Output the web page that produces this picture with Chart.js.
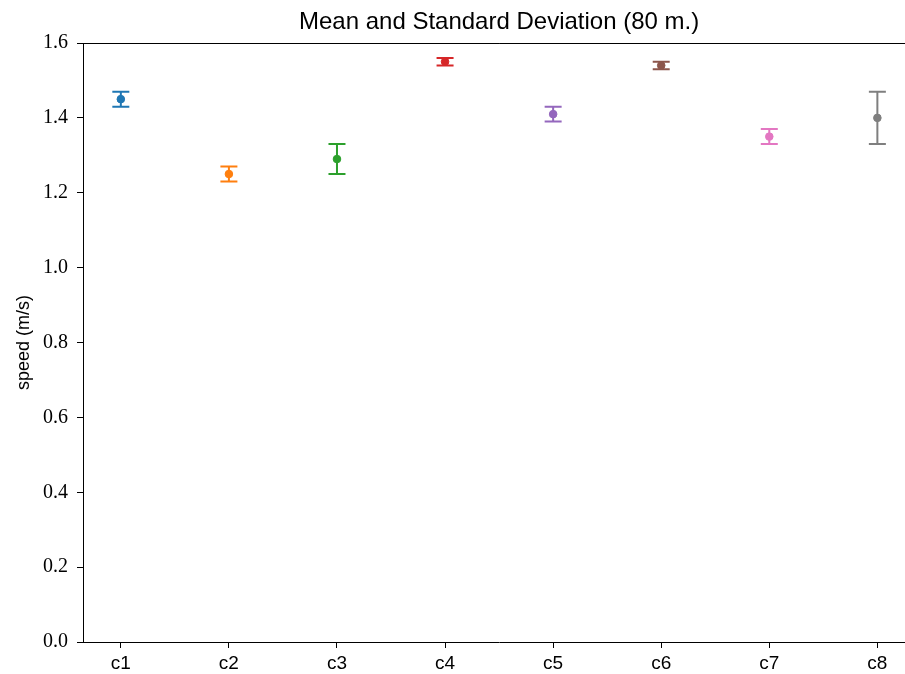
<!DOCTYPE html>
<html>
<head>
<meta charset="utf-8">
<script src="https://cdn.jsdelivr.net/npm/chart.js@4/dist/chart.umd.min.js"></script>
<style>
  html, body { margin: 0; padding: 0; background: #fff; overflow: hidden; }
  canvas { display: block; }
</style>
</head>
<body>
<canvas id="chart" width="920" height="674"></canvas>
<script>
// categorias, médias e desvios
const categories = ['c1', 'c2', 'c3', 'c4', 'c5', 'c6', 'c7', 'c8'];
const means = [1.45, 1.25, 1.29, 1.55, 1.41, 1.54, 1.35, 1.40];
const stds = [0.02, 0.02, 0.04, 0.01, 0.02, 0.01, 0.02, 0.07];
const colors = ['#1f77b4', '#ff7f0e', '#2ca02c', '#d62728', '#9467bd', '#8c564b', '#e377c2', '#7f7f7f'];
const yTicks = [0, 0.2, 0.4, 0.6, 0.8, 1.0, 1.2, 1.4, 1.6];
const chartTitle = 'Mean and Standard Deviation (80 m.)';

const sans = "'Liberation Sans', Arial, sans-serif";
const serif = "'Liberation Serif', 'Times New Roman', serif";

// uma série por categoria, para ter a cor própria
const datasets = categories.map((c, i) => ({
  label: c,
  data: [{ x: i, y: means[i], std: stds[i] }],
  backgroundColor: colors[i],
  borderColor: colors[i],
  pointRadius: 3.8,
  pointHoverRadius: 3.8
}));

// barras de erro, linha de cima do quadro e título centrado no eixo
const errorBars = {
  id: 'errorBars',
  beforeDatasetsDraw(chart) {
    const { ctx, scales: { x, y } } = chart;
    ctx.save();
    chart.data.datasets.forEach(ds => {
      ds.data.forEach(p => {
        const px = x.getPixelForValue(p.x);
        const top = y.getPixelForValue(p.y + p.std);
        const bot = y.getPixelForValue(p.y - p.std);
        ctx.strokeStyle = ds.borderColor;
        ctx.lineWidth = 2;
        ctx.beginPath();
        ctx.moveTo(px, top); ctx.lineTo(px, bot);
        ctx.moveTo(px - 8.5, top); ctx.lineTo(px + 8.5, top);
        ctx.moveTo(px - 8.5, bot); ctx.lineTo(px + 8.5, bot);
        ctx.stroke();
      });
    });
    const a = chart.chartArea;
    ctx.strokeStyle = '#000';
    ctx.lineWidth = 1;
    ctx.beginPath();
    ctx.moveTo(a.left, a.top + 0.5);
    ctx.lineTo(a.right, a.top + 0.5);
    ctx.stroke();

    ctx.fillStyle = '#000';
    ctx.font = '24px ' + sans;
    ctx.textAlign = 'center';
    ctx.textBaseline = 'middle';
    ctx.fillText(chartTitle, (a.left + a.right) / 2, 22);
    ctx.restore();
  }
};

new Chart(document.getElementById('chart'), {
  type: 'scatter',
  data: { datasets },
  options: {
    responsive: false,
    animation: false,
    layout: { padding: { top: 43, left: 0, right: 0, bottom: 0 } },
    plugins: {
      legend: { display: false },
      tooltip: { enabled: false },
      title: { display: false }
    },
    scales: {
      x: {
        type: 'linear',
        min: -0.35,
        max: 7.35,
        afterBuildTicks: (s) => { s.ticks = categories.map((c, i) => ({ value: i })); },
        afterFit: (s) => { s.height = 32; },
        ticks: {
          callback: (v) => categories[v],
          color: '#000',
          font: { family: sans, size: 19 },
          padding: 4,
          maxRotation: 0,
          autoSkip: false
        },
        grid: { drawOnChartArea: false, drawTicks: true, tickLength: 6, color: '#000' },
        border: { display: true, color: '#000', width: 1 }
      },
      y: {
        min: 0,
        max: 1.6,
        afterBuildTicks: (s) => { s.ticks = yTicks.map(v => ({ value: v })); },
        afterFit: (s) => { s.width = 83; },
        ticks: {
          callback: (v) => v.toFixed(1),
          color: '#000',
          font: { family: serif, size: 20 },
          padding: 9
        },
        title: {
          display: true,
          text: 'speed (m/s)',
          color: '#000',
          font: { family: sans, size: 18 },
          padding: { top: 13, bottom: 0 }
        },
        grid: { drawOnChartArea: false, drawTicks: true, tickLength: 6, color: '#000' },
        border: { display: true, color: '#000', width: 1 }
      }
    }
  },
  plugins: [errorBars]
});
</script>
</body>
</html>
